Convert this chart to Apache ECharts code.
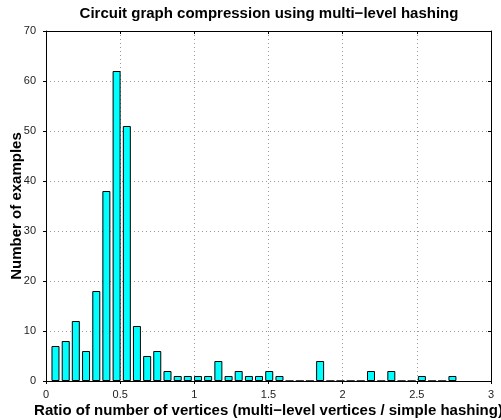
<!DOCTYPE html>
<html>
<head>
<meta charset="utf-8">
<script src="https://cdn.jsdelivr.net/npm/echarts@6/dist/echarts.min.js"></script>
<style>
  html, body { margin: 0; padding: 0; background: #fff; }
  #chart { width: 501px; height: 420px; }
</style>
</head>
<body>
<div id="chart"></div>
<script>
// histogram bin centres (ratio) and counts per bin
const binCenters = [
  0.064, 0.133, 0.201, 0.270, 0.339, 0.407, 0.476, 0.545, 0.613, 0.682,
  0.750, 0.819, 0.888, 0.956, 1.025, 1.093, 1.162, 1.231, 1.299, 1.368,
  1.436, 1.505, 1.574, 1.642, 1.711, 1.779, 1.848, 1.917, 1.985, 2.054,
  2.122, 2.191, 2.260, 2.328, 2.397, 2.465, 2.534, 2.603, 2.671, 2.740
]
const counts = [
  7, 8, 12, 6, 18, 38, 62, 51, 11, 5,
  6, 2, 1, 1, 1, 1, 4, 1, 2, 1,
  1, 2, 1, 0, 0, 0, 4, 0, 0, 0,
  0, 2, 0, 2, 0, 0, 1, 0, 0, 1
]
const xTicks = [0, 0.5, 1, 1.5, 2, 2.5, 3]
const yTicks = [0, 10, 20, 30, 40, 50, 60, 70]

const titleText = 'Circuit graph compression using multi\u2212level hashing'
const xName = 'Ratio of number of vertices (multi\u2212level vertices / simple hashing)'
const yName = 'Number of examples'

const font = 'Liberation Sans, Arial, Helvetica, sans-serif'

const chart = echarts.init(document.getElementById('chart'))

const frameX = (pos, show) => ({
  type: 'value',
  position: pos,
  min: xTicks[0],
  max: xTicks[xTicks.length - 1],
  interval: 0.5,
  name: show ? xName : '',
  nameLocation: 'middle',
  nameGap: 22,
  nameMoveOverlap: false,
  nameTextStyle: { fontFamily: font, fontSize: 15, fontWeight: 'bold', color: '#000' },
  axisLine: { show: true, onZero: false, lineStyle: { color: '#000', width: 1 } },
  axisTick: { show: true, inside: !show, length: 3, lineStyle: { color: '#000' } },
  axisLabel: { show: show, fontFamily: font, fontSize: 11, color: '#222', margin: 8,
    formatter: v => String(v) },
  splitLine: { show: show, lineStyle: { color: '#999', type: [1, 3], width: 1 } }
})

const frameY = (pos, show) => ({
  type: 'value',
  position: pos,
  min: yTicks[0],
  max: yTicks[yTicks.length - 1],
  interval: 10,
  name: show ? yName : '',
  nameLocation: 'middle',
  nameGap: 22,
  nameMoveOverlap: false,
  nameTextStyle: { fontFamily: font, fontSize: 15, fontWeight: 'bold', color: '#000' },
  axisLine: { show: true, onZero: false, lineStyle: { color: '#000', width: 1 } },
  axisTick: { show: true, inside: !show, length: 3, lineStyle: { color: '#000' } },
  axisLabel: { show: show, fontFamily: font, fontSize: 11, color: '#222', margin: 10 },
  splitLine: { show: show, lineStyle: { color: '#999', type: [1, 3], width: 1 } }
})

chart.setOption({
  animation: false,
  backgroundColor: '#fff',
  title: {
    text: titleText,
    left: 264,
    top: 1,
    textAlign: 'center',
    textStyle: { fontFamily: font, fontSize: 15, fontWeight: 'bold', color: '#000' }
  },
  grid: { left: 46, right: 10, top: 31, bottom: 39, outerBoundsMode: 'none', containLabel: false },
  xAxis: [frameX('bottom', true), frameX('top', false)],
  yAxis: [frameY('left', true), frameY('right', false)],
  series: [
    {
      type: 'bar',
      xAxisIndex: 0,
      yAxisIndex: 0,
      barWidth: 8,
      data: binCenters.map((c, i) => [c, counts[i]]),
      itemStyle: { color: '#00ffff', borderColor: '#000', borderWidth: 1 }
    }
  ]
})
</script>
</body>
</html>
